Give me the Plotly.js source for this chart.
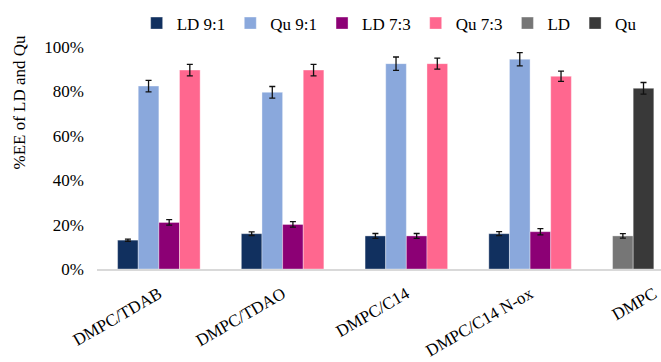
<!DOCTYPE html>
<html>
<head>
<meta charset="utf-8">
<script src="https://cdn.plot.ly/plotly-3.0.1.min.js"></script>
<style>
html,body{margin:0;padding:0;background:#fff;}
#chart{width:661px;height:362px;}
</style>
</head>
<body>
<div id="chart"></div>
<script>
const categories = ['DMPC/TDAB', 'DMPC/TDAO', 'DMPC/C14', 'DMPC/C14 N-ox', 'DMPC'];
const seriesNames = ['LD 9:1', 'Qu 9:1', 'LD 7:3', 'Qu 7:3', 'LD', 'Qu'];
const ld91 = [0.13, 0.159, 0.149, 0.159, null];
const ld91Err = [0.005, 0.008, 0.011, 0.009, null];
const qu91 = [0.824, 0.796, 0.925, 0.945, null];
const qu91Err = [0.026, 0.026, 0.030, 0.030, null];
const ld73 = [0.21, 0.201, 0.149, 0.168, null];
const ld73Err = [0.012, 0.012, 0.011, 0.014, null];
const qu73 = [0.896, 0.896, 0.925, 0.868, null];
const qu73Err = [0.026, 0.026, 0.025, 0.023, null];
const ldOnly = [null, null, null, null, 0.149];
const ldOnlyErr = [null, null, null, null, 0.010];
const quOnly = [null, null, null, null, 0.814];
const quOnlyErr = [null, null, null, null, 0.026];

const colors = ['#11305f', '#8aa8dc', '#8c0075', '#ff678f', '#767676', '#393939'];
const groups = ['a', 'b', 'c', 'd', 'a', 'b'];
const values = [ld91, qu91, ld73, qu73, ldOnly, quOnly];
const errors = [ld91Err, qu91Err, ld73Err, qu73Err, ldOnlyErr, quOnlyErr];

const font = 'Liberation Serif, Times New Roman, serif';

const traces = values.map((v, i) => ({
  type: 'bar',
  name: seriesNames[i],
  x: categories,
  y: v,
  offsetgroup: groups[i],
  marker: {color: colors[i], line: {color: 'rgba(255,255,255,0.45)', width: 0.8}},
  error_y: {type: 'data', array: errors[i], visible: true, color: '#111', thickness: 1.3, width: 3}
}));

const layout = {
  width: 661, height: 362,
  margin: {l: 97, r: 0, t: 47, b: 93},
  paper_bgcolor: '#fff', plot_bgcolor: '#fff',
  font: {family: font, size: 17, color: '#000'},
  barmode: 'group',
  bargap: 0.333,
  bargroupgap: 0,
  showlegend: true,
  legend: {
    orientation: 'h', x: 0.518, xanchor: 'center',
    yref: 'container', y: 0.935, yanchor: 'middle',
    font: {family: font, size: 17, color: '#000'},
    itemwidth: 30, traceorder: 'normal'
  },
  xaxis: {
    type: 'category',
    range: [-0.5, 4.058],
    showline: true, linecolor: '#d9d9d9', linewidth: 1.5,
    ticks: '', showgrid: false, zeroline: false,
    tickangle: -30,
    ticklabelstandoff: 7,
    tickfont: {family: font, size: 17, color: '#000'}
  },
  yaxis: {
    range: [0, 1],
    dtick: 0.2, tickformat: '.0%',
    showgrid: false, zeroline: false, showline: false, ticks: '',
    ticklabelstandoff: 12,
    tickfont: {family: font, size: 17, color: '#000'}
  },
  annotations: [{
    text: '%EE of LD and Qu',
    xref: 'paper', yref: 'paper',
    x: -0.1375, y: 0.752, xanchor: 'center', yanchor: 'middle',
    textangle: -90, showarrow: false,
    font: {family: font, size: 17, color: '#000'}
  }]
};

Plotly.newPlot('chart', traces, layout, {displayModeBar: false, staticPlot: true});
</script>
</body>
</html>
